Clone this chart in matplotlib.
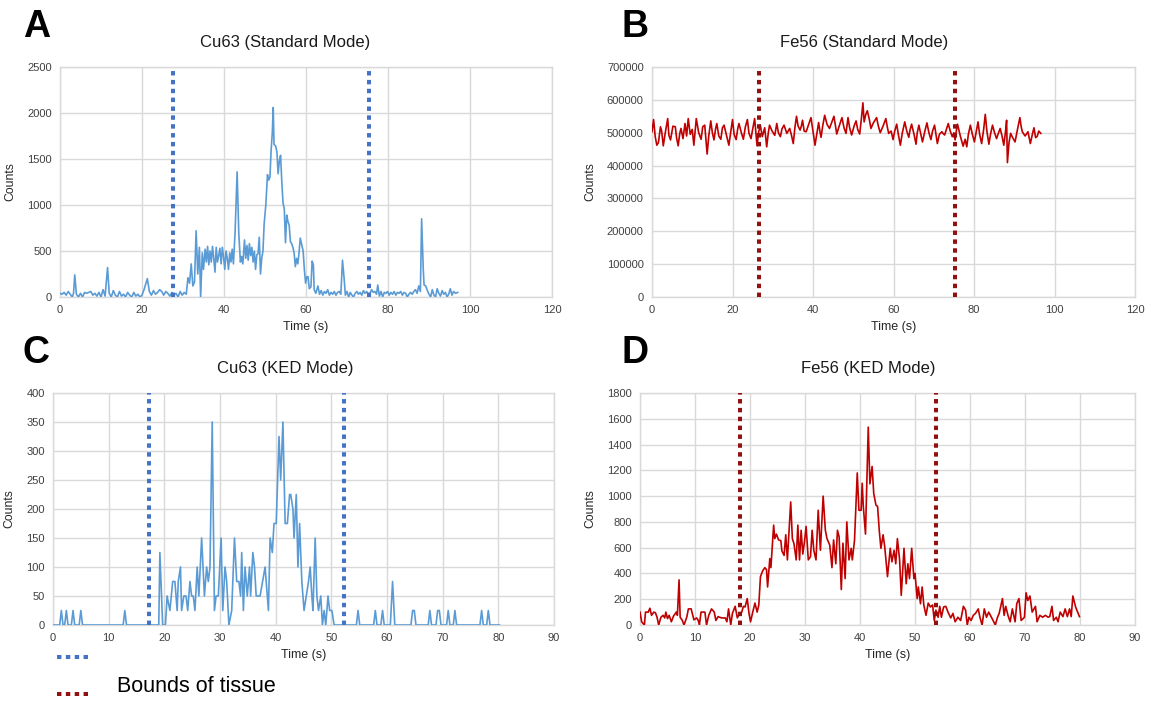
import numpy as np
import matplotlib.pyplot as plt

plt.rcParams.update({
    "font.family": ["Liberation Sans", "DejaVu Sans"],
    "font.size": 8,
})

# ---------------------------------------------------------------
# data (time s, counts)
# ---------------------------------------------------------------

cu63_std = [
    (0, 40), (0.5, 30), (1, 50), (1.5, 20), (2, 60), (2.5, 30), (3, 0), (3.3, 40), (3.6, 240), (4, 30),
    (4.5, 0), (5, 40), (5.5, 0), (6, 50), (6.5, 40), (7, 50), (7.5, 60), (8, 20), (8.5, 40), (9, 10),
    (9.5, 50), (10, 0), (10.5, 80), (11, 10), (11.6, 320), (12, 40), (12.5, 0), (13, 70), (13.5, 20), (14, 0),
    (14.5, 60), (15, 10), (15.5, 30), (16, 0), (16.5, 50), (17, 20), (17.5, 0), (18, 50), (18.5, 10), (19, 30),
    (19.5, 0), (20, 20), (20.5, 80), (21.3, 200), (21.8, 60), (22.3, 20), (22.8, 70), (23.3, 30), (23.8, 50), (24.3, 80),
    (24.8, 60), (25.3, 20), (25.8, 60), (26.3, 40), (26.8, 10), (27.3, 50), (27.8, 20), (28.3, 40), (28.8, 0), (29.3, 60),
    (29.8, 20), (30.3, 50), (30.8, 30), (31.2, 210), (31.6, 150), (32, 360), (32.4, 120), (32.8, 160), (33.2, 720), (33.6, 250),
    (34, 540), (34.3, 0), (34.7, 480), (35, 300), (35.4, 520), (35.7, 380), (36, 550), (36.3, 350), (36.6, 500), (36.9, 380),
    (37.2, 550), (37.5, 420), (37.8, 270), (38.1, 540), (38.4, 380), (38.7, 450), (39, 530), (39.3, 360), (39.6, 540), (39.9, 430),
    (40.2, 300), (40.5, 500), (40.8, 420), (41.1, 300), (41.4, 480), (41.7, 380), (42, 520), (42.3, 360), (42.7, 700), (43.2, 1360),
    (43.6, 700), (44, 380), (44.3, 440), (44.6, 360), (45, 620), (45.3, 420), (45.6, 560), (45.9, 400), (46.2, 580), (46.5, 450),
    (46.8, 540), (47.1, 380), (47.4, 500), (47.7, 300), (48, 460), (48.3, 470), (48.6, 650), (48.9, 250), (49.2, 420), (49.5, 500),
    (49.8, 800), (50.2, 1000), (50.6, 1330), (50.9, 1270), (51.2, 1300), (51.5, 1600), (51.8, 1800), (52, 2060), (52.2, 1660), (52.6, 1640),
    (52.9, 1580), (53.2, 1340), (53.5, 1480), (53.8, 1540), (54.1, 1250), (54.4, 1020), (54.7, 960), (55, 590), (55.3, 890), (55.6, 820),
    (55.9, 780), (56.2, 600), (56.5, 580), (56.8, 540), (57.1, 480), (57.4, 330), (57.7, 420), (58, 360), (58.3, 480), (58.6, 640),
    (58.9, 580), (59.3, 500), (59.6, 300), (59.9, 150), (60.2, 220), (60.5, 220), (60.8, 90), (61.2, 110), (61.5, 390), (61.8, 350),
    (62, 80), (62.4, 40), (62.9, 120), (63.3, 30), (63.7, 70), (64.1, 20), (64.5, 60), (64.9, 40), (65.3, 80), (65.7, 20),
    (66.1, 50), (66.5, 30), (66.9, 60), (67.3, 20), (67.7, 50), (68.1, 60), (68.5, 30), (68.9, 400), (69.3, 200), (69.6, 20),
    (70, 60), (70.4, 0), (70.8, 50), (71.2, 20), (71.6, 0), (72, 40), (72.4, 60), (72.8, 30), (73.2, 50), (73.6, 20),
    (74, 70), (74.4, 40), (74.8, 60), (75.2, 20), (75.6, 40), (76, 80), (76.4, 50), (76.8, 60), (77.2, 30), (77.5, 130),
    (77.9, 10), (78.3, 60), (78.7, 0), (79.1, 50), (79.5, 40), (79.9, 60), (80.3, 20), (80.7, 50), (81.1, 30), (81.5, 60),
    (81.9, 20), (82.3, 50), (82.7, 40), (83.1, 60), (83.5, 20), (83.9, 50), (84.3, 40), (84.7, 0), (85.1, 30), (85.5, 50),
    (85.9, 30), (86.3, 60), (86.7, 80), (87.1, 40), (87.5, 120), (87.9, 60), (88.2, 850), (88.6, 300), (88.8, 130), (89.2, 120),
    (89.6, 70), (90, 30), (90.4, 0), (90.8, 80), (91.2, 20), (91.6, 0), (92, 90), (92.4, 40), (92.8, 10), (93.2, 70),
    (93.6, 30), (94, 50), (94.4, 0), (94.8, 30), (95.2, 90), (95.6, 20), (96, 60), (96.5, 40), (97, 50),
]

# Fe56 standard mode, in thousands of counts
fe56_std = [
    (0, 503), (0.4, 540), (0.8, 488), (1.2, 462), (1.6, 470), (2.1, 518), (2.4, 505), (2.8, 460), (3.3, 500), (3.9, 543),
    (4.2, 492), (4.6, 478), (5.2, 520), (5.8, 518), (6.1, 485), (6.5, 460), (6.9, 498), (7.2, 513), (7.7, 482), (8.2, 528),
    (8.6, 490), (9.0, 543), (9.5, 495), (10.0, 510), (10.4, 462), (11.0, 543), (11.6, 500), (12.2, 480), (12.6, 518), (13.1, 523),
    (13.7, 435), (14.1, 490), (14.6, 536), (15.0, 500), (15.4, 478), (15.8, 512), (16.1, 528), (16.6, 490), (17.1, 480), (17.5, 515),
    (17.9, 523), (18.5, 492), (19.1, 462), (19.6, 505), (20.0, 540), (20.4, 495), (20.9, 479), (21.3, 512), (21.6, 528), (22.2, 500),
    (22.7, 480), (23.2, 518), (23.7, 540), (24.1, 498), (24.6, 482), (25.0, 510), (25.5, 543), (25.8, 500), (26.1, 460), (26.5, 502),
    (26.9, 523), (27.4, 488), (28.0, 515), (28.5, 457), (28.9, 500), (29.2, 523), (29.8, 506), (30.5, 492), (31.0, 528), (31.4, 500),
    (31.9, 488), (32.3, 512), (32.8, 523), (33.5, 498), (34.2, 513), (34.6, 495), (35.1, 467), (35.5, 515), (35.9, 550), (36.3, 520),
    (36.8, 508), (37.1, 520), (37.4, 538), (37.8, 505), (38.3, 503), (38.9, 525), (39.5, 546), (40.0, 505), (40.5, 462), (41.0, 500),
    (41.4, 531), (41.7, 505), (42.0, 486), (42.4, 520), (42.9, 553), (43.5, 525), (44.1, 513), (44.6, 530), (45.2, 550), (45.6, 518),
    (45.9, 496), (46.5, 520), (47.2, 546), (47.7, 515), (48.2, 498), (48.7, 546), (49.1, 515), (49.6, 493), (50.2, 520), (50.7, 536),
    (51.1, 510), (51.6, 496), (52.0, 540), (52.4, 591), (52.7, 533), (53.1, 555), (53.5, 567), (54.0, 540), (54.4, 513), (55.0, 530),
    (55.8, 546), (56.2, 522), (56.7, 500), (57.4, 520), (58.1, 543), (58.5, 515), (58.8, 498), (59.4, 505), (59.9, 479), (60.3, 505),
    (60.8, 526), (61.2, 495), (61.7, 462), (62.2, 500), (62.8, 533), (63.3, 505), (63.8, 486), (64.1, 508), (64.5, 526), (65.1, 495),
    (65.6, 465), (65.9, 500), (66.3, 523), (66.8, 495), (67.2, 472), (67.8, 505), (68.3, 530), (68.8, 500), (69.3, 479), (69.7, 505),
    (70.2, 523), (70.6, 492), (70.9, 467), (71.4, 495), (72.0, 503), (72.3, 498), (72.7, 493), (73.2, 512), (73.6, 528), (74.1, 505),
    (74.6, 488), (75.0, 500), (75.3, 478), (75.6, 505), (75.9, 526), (76.6, 490), (77.3, 459), (77.8, 480), (78.2, 457), (78.6, 495),
    (79.1, 523), (79.6, 495), (80.1, 472), (80.6, 505), (81.0, 533), (81.4, 495), (81.9, 467), (82.4, 510), (82.8, 556), (83.2, 505),
    (83.7, 465), (84.1, 495), (84.6, 523), (85.1, 500), (85.6, 482), (86.1, 500), (86.5, 513), (87.0, 488), (87.4, 462), (87.8, 500),
    (88.1, 538), (88.3, 409), (88.7, 470), (89.1, 498), (89.6, 485), (90.2, 472), (90.8, 510), (91.4, 546), (91.7, 520), (92.0, 503),
    (92.7, 490), (93.4, 503), (94.0, 467), (94.5, 495), (94.9, 515), (95.3, 485), (95.7, 489), (96.1, 505), (96.6, 498),
]

cu63_ked = [
    (0, 0), (1.2, 0), (1.5, 25), (1.8, 0), (2.1, 0), (2.4, 25), (2.7, 0), (3.3, 0), (3.6, 25), (3.9, 0),
    (4.7, 0), (5.0, 25), (5.3, 0), (12.6, 0), (12.9, 25), (13.2, 0), (19.0, 0), (19.2, 125), (19.7, 0), (20.2, 0),
    (20.5, 50), (21.0, 25), (21.5, 75), (21.9, 75), (22.3, 25), (22.5, 75), (22.9, 100), (23.1, 25), (23.5, 50), (23.9, 50),
    (24.2, 25), (24.6, 75), (24.9, 50), (25.2, 50), (25.5, 25), (25.9, 100), (26.2, 50), (26.7, 150), (27.2, 50), (27.6, 100),
    (27.9, 75), (28.2, 100), (28.6, 350), (29.0, 25), (29.3, 50), (29.7, 50), (30.2, 150), (30.5, 25), (30.9, 100), (31.2, 75),
    (31.6, 0), (32.1, 25), (32.6, 150), (33.0, 75), (33.4, 75), (33.7, 50), (33.9, 125), (34.2, 25), (34.5, 100), (34.9, 50),
    (35.3, 100), (35.5, 50), (35.9, 125), (36.2, 100), (36.5, 50), (37.2, 50), (38.1, 100), (38.7, 25), (39.0, 150), (39.4, 125),
    (39.7, 175), (40.1, 175), (40.6, 325), (40.9, 250), (41.3, 350), (41.7, 175), (42.1, 175), (42.5, 225), (42.7, 225), (43.1, 200),
    (43.3, 150), (43.7, 225), (44.0, 100), (44.3, 175), (44.7, 75), (45.1, 25), (45.5, 50), (45.9, 75), (46.2, 100), (46.5, 50),
    (46.7, 25), (47.1, 150), (47.4, 50), (47.7, 25), (48.1, 50), (48.4, 0), (48.7, 25), (49.0, 0), (49.4, 50), (49.7, 25),
    (50.1, 25), (50.5, 0), (54.5, 0), (54.8, 25), (55.1, 0), (57.6, 0), (57.9, 25), (58.2, 0), (58.9, 0), (59.2, 25),
    (59.5, 0), (60.6, 0), (61.0, 75), (61.4, 0), (64.3, 0), (64.6, 25), (64.9, 25), (65.2, 0), (67.4, 0), (67.7, 25),
    (68.0, 0), (68.8, 0), (69.1, 25), (69.4, 25), (69.7, 0), (70.7, 0), (71.0, 25), (71.3, 0), (71.9, 0), (72.2, 25),
    (72.5, 0), (76.7, 0), (77.0, 25), (77.3, 0), (77.9, 0), (78.2, 25), (78.5, 0), (80.2, 0),
]

fe56_ked = [
    (0, 100), (0.3, 25), (0.8, 0), (1.0, 100), (1.5, 100), (1.8, 130), (2.1, 75), (2.5, 100), (2.8, 95), (3.1, 60),
    (3.4, 0), (3.8, 60), (4.2, 75), (4.5, 55), (4.7, 100), (5.0, 50), (5.3, 75), (5.7, 25), (6.1, 70), (6.6, 100),
    (6.8, 75), (7.1, 350), (7.3, 60), (7.7, 35), (8.0, 0), (8.5, 60), (8.8, 125), (9.3, 125), (9.8, 40), (10.3, 55),
    (10.6, 35), (10.8, 0), (11.1, 100), (11.8, 100), (12.1, 0), (12.5, 75), (13.0, 125), (13.5, 100), (13.8, 35), (14.2, 65),
    (14.8, 55), (15.5, 55), (15.8, 25), (16.1, 125), (16.5, 0), (16.8, 90), (17.3, 145), (17.7, 55), (18.1, 90), (18.5, 100),
    (18.8, 145), (19.1, 140), (19.5, 205), (19.8, 95), (20.1, 25), (20.5, 100), (20.9, 170), (21.3, 100), (21.6, 155), (21.9, 375),
    (22.3, 420), (22.7, 445), (23.0, 430), (23.2, 295), (23.6, 515), (23.8, 445), (24.3, 775), (24.5, 670), (24.8, 705), (25.2, 660),
    (25.6, 655), (25.8, 575), (26.2, 540), (26.5, 700), (26.8, 505), (27.4, 955), (27.7, 670), (28.0, 630), (28.4, 505), (28.7, 775),
    (29.0, 505), (29.3, 735), (29.6, 550), (29.9, 645), (30.2, 765), (30.6, 505), (31.0, 530), (31.3, 735), (31.6, 580), (32.0, 505),
    (32.4, 890), (32.8, 580), (33.3, 1000), (33.7, 735), (34.0, 670), (34.5, 620), (34.9, 445), (35.2, 660), (35.6, 475), (35.9, 735),
    (36.2, 685), (36.6, 275), (36.9, 635), (37.3, 360), (37.6, 800), (38.0, 505), (38.4, 595), (38.6, 505), (39.0, 655), (39.5, 1180),
    (39.8, 890), (40.2, 890), (40.4, 1100), (40.6, 920), (41.0, 705), (41.5, 1535), (41.8, 1095), (42.2, 1230), (42.5, 1020), (42.9, 930),
    (43.2, 920), (43.5, 735), (43.8, 595), (44.2, 700), (44.5, 605), (45.0, 375), (45.5, 595), (45.8, 490), (46.2, 580), (46.5, 475),
    (46.8, 670), (47.2, 505), (47.5, 230), (48.0, 595), (48.4, 320), (48.7, 475), (49.0, 360), (49.4, 595), (49.8, 360), (50.0, 400),
    (50.4, 205), (50.6, 295), (51.0, 165), (51.3, 295), (51.6, 155), (52.0, 75), (52.4, 170), (52.8, 140), (53.2, 155), (53.5, 35),
    (53.8, 115), (54.2, 60), (54.5, 145), (54.8, 60), (55.2, 140), (55.6, 145), (56.0, 100), (56.5, 55), (56.9, 90), (57.3, 25),
    (57.8, 60), (58.3, 35), (58.8, 145), (59.2, 115), (59.5, 0), (59.8, 60), (60.2, 35), (60.6, 75), (61.0, 90), (61.5, 125),
    (61.8, 60), (62.2, 0), (62.6, 125), (63.0, 60), (63.4, 100), (63.9, 60), (64.2, 35), (64.6, 0), (65.0, 60), (65.3, 90),
    (65.9, 205), (66.2, 75), (66.5, 145), (66.9, 75), (67.3, 25), (67.7, 125), (68.2, 25), (68.5, 165), (68.9, 205), (69.3, 35),
    (69.9, 60), (70.2, 250), (70.5, 190), (70.9, 225), (71.3, 100), (71.9, 145), (72.2, 25), (72.7, 75), (73.2, 60), (73.7, 75),
    (74.2, 60), (74.5, 65), (74.9, 145), (75.2, 35), (75.7, 60), (76.0, 25), (76.4, 100), (76.9, 65), (77.3, 125), (77.7, 65),
    (78.1, 125), (78.4, 65), (78.7, 225), (79.2, 140), (79.9, 65),
]

# tissue bounds (s)
bounds_cu63_std = [27.6, 75.4]
bounds_fe56_std = [26.7, 75.3]
bounds_cu63_ked = [17.2, 52.3]
bounds_fe56_ked = [18.1, 53.8]

BLUE = "#5b9bd5"
RED = "#c00000"
BLUE_B = "#4472c4"
RED_B = "#931010"
GRID = "#d9d9d9"

panels = [
    # letter, title, data, bounds, line col, bound col, scale, xmax, xstep, ymax, ystep, box px, ylabel x, title x
    ("A", "Cu63 (Standard Mode)", cu63_std, bounds_cu63_std, BLUE, BLUE_B, 1, 120, 20, 2500, 500,
     [60, 67, 552, 297], -0.089, 285),
    ("B", "Fe56 (Standard Mode)", fe56_std, bounds_fe56_std, RED, RED_B, 1000, 120, 20, 700000, 100000,
     [652, 67, 1135, 297], -0.116, 864),
    ("C", "Cu63 (KED Mode)", cu63_ked, bounds_cu63_ked, BLUE, BLUE_B, 1, 90, 10, 400, 50,
     [53, 393, 554, 625], -0.076, 285),
    ("D", "Fe56 (KED Mode)", fe56_ked, bounds_fe56_ked, RED, RED_B, 1, 90, 10, 1800, 200,
     [640, 393, 1135, 625], -0.089, 868),
]

W, H = 1155, 702
fig = plt.figure(figsize=(W / 100, H / 100), dpi=100)

for letter, title, data, bnds, col, bcol, scale, xmax, xstep, ymax, ystep, box, ylx, tx in panels:
    x0, y0, x1, y1 = box
    ax = fig.add_axes([x0 / W, 1 - y1 / H, (x1 - x0) / W, (y1 - y0) / H])

    t = [p[0] for p in data]
    v = [p[1] * scale for p in data]
    ax.plot(t, v, color=col, lw=1.2, zorder=3)

    for b in bnds:
        ax.plot([b, b], [0, ymax], color=bcol, lw=2.9,
                linestyle=(0, (1.1, 1.1)), dash_capstyle="butt", zorder=4)

    ax.set_xlim(0, xmax)
    ax.set_ylim(0, ymax)
    ax.set_xticks(np.arange(0, xmax + 1, xstep))
    ax.set_yticks(np.arange(0, ymax + 1, ystep))
    ax.grid(True, color=GRID, lw=1)
    ax.set_axisbelow(True)
    for s in ax.spines.values():
        s.set_color(GRID)
        s.set_linewidth(1)
    ax.tick_params(length=0, labelsize=8, pad=6, labelcolor="#404040")

    ax.set_xlabel("Time (s)", fontsize=9, color="#262626")
    ax.xaxis.set_label_coords(0.5, -30 / (y1 - y0))
    ax.xaxis.label.set_va("center")
    ax.set_ylabel("Counts", fontsize=8.8, color="#262626")
    ax.yaxis.set_label_coords(ylx, 0.5)

    fig.text(tx / W, 1 - (y0 - 25) / H, title, ha="center", va="center",
             fontsize=12, color="#1a1a1a")
    lx = 23 if x0 < 500 else 622
    fig.text(lx / W, 1 - (y0 - 40) / H, letter, ha="left", va="center",
             fontsize=27, fontweight="bold", color="black")

# legend for tissue bounds
lax = fig.add_axes([0, 0, 1, 1], facecolor="none")
lax.set_xlim(0, W)
lax.set_ylim(H, 0)
lax.axis("off")
lax.plot([57, 89], [657, 657], color=BLUE_B, lw=2.9, linestyle=(0, (1.1, 1.1)), dash_capstyle="butt")
lax.plot([57, 89], [694, 694], color=RED_B, lw=2.9, linestyle=(0, (1.1, 1.1)), dash_capstyle="butt")
lax.text(117, 687, "Bounds of tissue", fontsize=15.5, va="center", ha="left", color="black")

fig.savefig("out.png", dpi=100)
